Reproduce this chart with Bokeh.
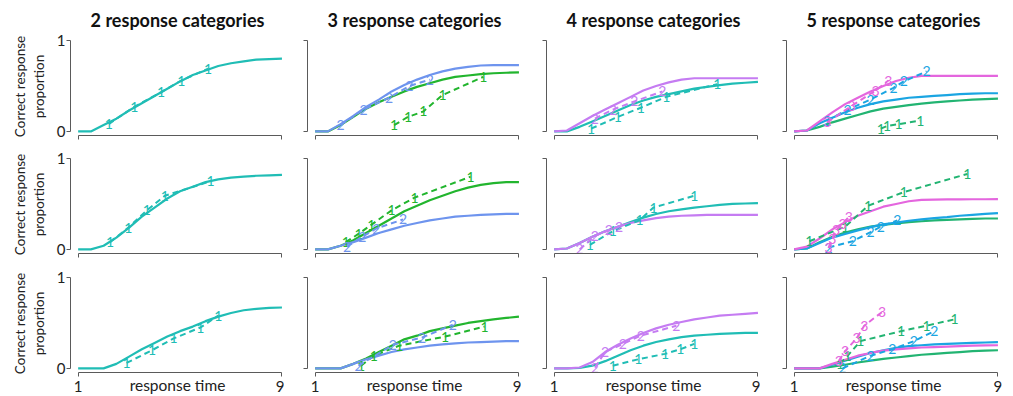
from bokeh.plotting import figure
from bokeh.layouts import column, row
from bokeh.models import FixedTicker, Range1d, CustomLabelingPolicy
from bokeh.embed import file_html
from bokeh.resources import INLINE
from bokeh.core.properties import value

# ---------------- data ----------------
titles = ["2 response categories", "3 response categories",
          "4 response categories", "5 response categories"]
x_ticks = [1, 9]
y_ticks = [0, 1]
x_label = "response time"
y_label = "Correct response\nproportion"

# response-time grid of the fitted (solid) curves
rt = [1, 1.5, 2, 2.5, 3, 3.5, 4, 4.5, 5, 5.5, 6, 6.5, 7, 7.5, 8, 8.5, 9]

# ---- column 1 : 2 categories (teal) ----
r1c1_fit1 = [0, 0, 0.07, 0.14, 0.23, 0.31, 0.39, 0.47, 0.55, 0.62, 0.67, 0.72, 0.75, 0.77, 0.79, 0.795, 0.80]
r1c1_obs1_x = [2.2, 3.2, 4.25, 5.05, 6.1]
r1c1_obs1_y = [0.08, 0.27, 0.43, 0.56, 0.69]
r2c1_fit1 = [0, 0, 0.04, 0.13, 0.24, 0.36, 0.46, 0.56, 0.64, 0.69, 0.74, 0.77, 0.79, 0.80, 0.81, 0.815, 0.82]
r2c1_obs1_x = [2.25, 2.97, 3.7, 4.4, 6.2]
r2c1_obs1_y = [0.08, 0.24, 0.43, 0.59, 0.75]
r3c1_fit1 = [0, 0, 0, 0.05, 0.13, 0.21, 0.28, 0.35, 0.41, 0.46, 0.52, 0.57, 0.61, 0.64, 0.655, 0.665, 0.67]
r3c1_obs1_x = [2.9, 3.9, 4.75, 5.8, 6.5]
r3c1_obs1_y = [0.06, 0.20, 0.33, 0.45, 0.58]

# ---- column 2 : 3 categories (green = 1, blue = 2) ----
r1c2_fit1 = [0, 0, 0.07, 0.16, 0.25, 0.32, 0.38, 0.44, 0.49, 0.53, 0.57, 0.60, 0.615, 0.63, 0.64, 0.645, 0.65]
r1c2_fit2 = [0, 0, 0.08, 0.17, 0.27, 0.35, 0.44, 0.51, 0.57, 0.62, 0.66, 0.69, 0.71, 0.725, 0.73, 0.73, 0.73]
r1c2_obs1_x = [4.1, 4.65, 5.25, 6.0, 7.6]
r1c2_obs1_y = [0.07, 0.16, 0.22, 0.40, 0.60]
r1c2_obs2_x = [2.0, 2.9, 3.9, 4.7, 5.5]
r1c2_obs2_y = [0.07, 0.24, 0.37, 0.50, 0.57]
r2c2_fit1 = [0, 0, 0.04, 0.10, 0.18, 0.26, 0.34, 0.42, 0.48, 0.54, 0.59, 0.64, 0.68, 0.71, 0.73, 0.74, 0.74]
r2c2_fit2 = [0, 0, 0.04, 0.08, 0.13, 0.18, 0.22, 0.26, 0.29, 0.32, 0.34, 0.36, 0.37, 0.38, 0.385, 0.39, 0.39]
r2c2_obs1_x = [2.2, 2.7, 3.2, 4.0, 4.9, 7.1]
r2c2_obs1_y = [0.08, 0.17, 0.27, 0.43, 0.57, 0.80]
r2c2_obs2_x = [2.25, 2.85, 3.4, 4.45]
r2c2_obs2_y = [0.03, 0.14, 0.23, 0.33]
r3c2_fit1 = [0, 0, 0, 0.05, 0.11, 0.18, 0.25, 0.32, 0.36, 0.41, 0.44, 0.47, 0.50, 0.52, 0.54, 0.555, 0.57]
r3c2_fit2 = [0, 0, 0, 0.05, 0.10, 0.14, 0.18, 0.21, 0.23, 0.25, 0.265, 0.275, 0.285, 0.29, 0.295, 0.30, 0.30]
r3c2_obs1_x = [2.8, 3.3, 4.3, 6.1, 7.65]
r3c2_obs1_y = [0.03, 0.14, 0.25, 0.35, 0.46]
r3c2_obs2_x = [2.7, 4.05, 5.2, 6.4]
r3c2_obs2_y = [0.03, 0.26, 0.34, 0.48]

# ---- column 3 : 4 categories (teal = 1, violet = 2) ----
r1c3_fit1 = [0, 0, 0.05, 0.11, 0.17, 0.23, 0.29, 0.34, 0.38, 0.41, 0.44, 0.47, 0.49, 0.51, 0.525, 0.535, 0.545]
r1c3_fit2 = [0, 0.01, 0.09, 0.17, 0.24, 0.31, 0.38, 0.45, 0.50, 0.54, 0.57, 0.585, 0.585, 0.585, 0.585, 0.585, 0.585]
r1c3_obs1_x = [2.45, 3.5, 4.4, 5.4, 7.4]
r1c3_obs1_y = [0.03, 0.16, 0.26, 0.38, 0.52]
r1c3_obs2_x = [2.6, 3.3, 4.15, 5.25]
r1c3_obs2_y = [0.14, 0.24, 0.33, 0.44]
r2c3_fit1 = [0, 0.01, 0.07, 0.14, 0.20, 0.25, 0.30, 0.35, 0.39, 0.42, 0.44, 0.46, 0.475, 0.49, 0.50, 0.505, 0.51]
r2c3_fit2 = [0, 0.01, 0.07, 0.14, 0.20, 0.25, 0.29, 0.32, 0.345, 0.36, 0.37, 0.375, 0.38, 0.38, 0.38, 0.38, 0.38]
r2c3_obs1_x = [2.4, 3.3, 4.35, 4.9, 6.5]
r2c3_obs1_y = [0.05, 0.20, 0.32, 0.46, 0.59]
r2c3_obs2_x = [2.0, 2.6, 3.15, 3.55]
r2c3_obs2_y = [0.0, 0.15, 0.21, 0.25]
r3c3_fit1 = [0, 0, 0.005, 0.03, 0.08, 0.14, 0.20, 0.25, 0.29, 0.32, 0.345, 0.36, 0.37, 0.38, 0.385, 0.39, 0.39]
r3c3_fit2 = [0, 0, 0.01, 0.07, 0.18, 0.26, 0.33, 0.39, 0.44, 0.48, 0.51, 0.54, 0.56, 0.58, 0.59, 0.60, 0.61]
r3c3_obs1_x = [3.3, 4.3, 5.35, 5.95, 6.5]
r3c3_obs1_y = [0.03, 0.10, 0.16, 0.21, 0.27]
r3c3_obs2_x = [2.6, 3.0, 3.7, 4.4, 5.8]
r3c3_obs2_y = [0.01, 0.18, 0.27, 0.36, 0.47]

# ---- column 4 : 5 categories (green = 1, blue = 2, magenta = 3) ----
r1c4_fit1 = [0, 0.01, 0.05, 0.10, 0.14, 0.18, 0.22, 0.25, 0.27, 0.29, 0.305, 0.32, 0.33, 0.34, 0.35, 0.355, 0.36]
r1c4_fit2 = [0, 0.01, 0.09, 0.15, 0.21, 0.26, 0.30, 0.33, 0.35, 0.37, 0.38, 0.39, 0.40, 0.41, 0.415, 0.42, 0.42]
r1c4_fit3 = [0, 0.01, 0.11, 0.21, 0.30, 0.37, 0.44, 0.50, 0.555, 0.59, 0.61, 0.61, 0.61, 0.61, 0.61, 0.61, 0.61]
r1c4_obs1_x = [4.4, 4.65, 5.1, 5.95]
r1c4_obs1_y = [0.03, 0.06, 0.08, 0.12]
r1c4_obs2_x = [2.3, 3.1, 4.0, 4.9, 5.3, 6.2]
r1c4_obs2_y = [0.12, 0.24, 0.35, 0.48, 0.55, 0.66]
r1c4_obs3_x = [2.3, 3.25, 4.2, 4.7]
r1c4_obs3_y = [0.10, 0.28, 0.45, 0.56]
r2c4_fit1 = [0, 0.01, 0.08, 0.14, 0.185, 0.22, 0.25, 0.27, 0.285, 0.30, 0.31, 0.32, 0.325, 0.33, 0.335, 0.34, 0.34]
r2c4_fit2 = [0, 0.01, 0.07, 0.13, 0.17, 0.21, 0.245, 0.275, 0.295, 0.315, 0.33, 0.345, 0.355, 0.37, 0.38, 0.39, 0.40]
r2c4_fit3 = [0, 0.03, 0.12, 0.22, 0.30, 0.37, 0.42, 0.47, 0.50, 0.53, 0.545, 0.548, 0.55, 0.55, 0.552, 0.552, 0.553]
r2c4_obs1_x = [1.6, 3.0, 3.9, 5.3, 7.8]
r2c4_obs1_y = [0.09, 0.25, 0.48, 0.63, 0.83]
r2c4_obs2_x = [2.35, 3.3, 4.0, 4.4, 5.05]
r2c4_obs2_y = [0.02, 0.09, 0.19, 0.25, 0.32]
r2c4_obs3_x = [2.35, 2.5, 2.65, 2.9, 3.15]
r2c4_obs3_y = [0.02, 0.12, 0.21, 0.28, 0.36]
r3c4_fit1 = [0, 0, 0, 0.02, 0.04, 0.065, 0.085, 0.105, 0.12, 0.135, 0.15, 0.16, 0.17, 0.18, 0.19, 0.195, 0.20]
r3c4_fit2 = [0, 0, 0, 0.04, 0.085, 0.13, 0.17, 0.20, 0.225, 0.245, 0.255, 0.265, 0.27, 0.275, 0.28, 0.285, 0.29]
r3c4_fit3 = [0, 0, 0, 0.05, 0.095, 0.14, 0.17, 0.195, 0.21, 0.22, 0.23, 0.235, 0.24, 0.245, 0.25, 0.253, 0.255]
r3c4_obs1_x = [2.8, 3.1, 3.6, 5.2, 6.2, 7.3]
r3c4_obs1_y = [0.05, 0.14, 0.30, 0.41, 0.47, 0.54]
r3c4_obs2_x = [2.9, 4.0, 4.85, 5.7, 6.5]
r3c4_obs2_y = [0.0, 0.14, 0.21, 0.30, 0.41]
r3c4_obs3_x = [2.75, 3.0, 3.45, 3.75, 4.45]
r3c4_obs3_y = [0.08, 0.19, 0.33, 0.47, 0.62]

# ---------------- colours ----------------
TEAL = "#20BDB5"
BLUE2 = "#6E94EE"
GREEN2 = "#22B52E"
VIOLET = "#C57CF2"
MAGENTA = "#E466DE"
BLUE4 = "#1AA5E2"
GREEN4 = "#22B472"

col_colors = [
    {"1": TEAL},
    {"1": GREEN2, "2": BLUE2},
    {"1": TEAL, "2": VIOLET},
    {"1": GREEN4, "2": BLUE4, "3": MAGENTA},
]

g = globals()

FONT = "Lato"
FRAME_W, FRAME_H = 214, 98
AXIS_COL = "#5a5a5a"
LEFTS = [70, 23, 25, 26]
RIGHTS = [0, 0, 0, 8]
TOPS = [37, 10, 11]
BOTTOMS = [10, 10, 24]

NO_LABELS = "for (const i of indices) { indices.unset(i) } return indices"


def make_panel(r, c):
    left, right = LEFTS[c], RIGHTS[c]
    top, bottom = TOPS[r], BOTTOMS[r]
    p = figure(width=left + FRAME_W + right, height=top + FRAME_H + bottom,
               x_range=Range1d(0.7, 9.1), y_range=Range1d(-0.045, 1.033),
               output_backend="svg", toolbar_location=None,
               title=titles[c] if r == 0 else None,
               min_border_left=left, min_border_right=right,
               min_border_top=top, min_border_bottom=bottom)
    p.outline_line_color = None
    p.xgrid.visible = False
    p.ygrid.visible = False
    if r == 0:
        p.title.text_font = FONT
        p.title.text_font_size = "18px"
        p.title.text_font_style = "bold"
        p.title.align = "center"
        p.title.text_color = "#111111"
        p.title.standoff = 13

    for ax in (p.xaxis[0], p.yaxis[0]):
        ax.axis_line_color = AXIS_COL
        ax.major_tick_line_color = AXIS_COL
        ax.major_tick_in = 0
        ax.major_tick_out = 4
        ax.minor_tick_line_color = None
        ax.major_label_text_font = FONT
        ax.major_label_text_font_size = "15px"
        ax.major_label_text_color = "#222222"
        ax.major_label_standoff = 1

    xa = p.xaxis[0]
    xa.ticker = FixedTicker(ticks=x_ticks)
    xa.bounds = (x_ticks[0], x_ticks[-1])
    if r < 2:
        xa.major_label_policy = CustomLabelingPolicy(code=NO_LABELS)
        xa.major_label_text_font_size = "1px"
        xa.major_label_standoff = 0
    else:
        xa.major_label_standoff = 4
        xa.axis_label = x_label
        xa.axis_label_text_font = FONT
        xa.axis_label_text_font_size = "15.5px"
        xa.axis_label_text_font_style = "normal"
        xa.axis_label_text_color = "#222222"
        xa.axis_label_standoff = -19

    ya = p.yaxis[0]
    ya.ticker = FixedTicker(ticks=y_ticks)
    ya.bounds = (y_ticks[0], y_ticks[-1])
    if c == 0:
        ya.axis_label = y_label
        ya.axis_label_text_font = FONT
        ya.axis_label_text_font_size = "13.5px"
        ya.axis_label_text_font_style = "normal"
        ya.axis_label_text_color = "#222222"
        ya.axis_label_standoff = 7
    else:
        ya.major_label_policy = CustomLabelingPolicy(code=NO_LABELS)
        ya.major_label_text_font_size = "1px"

    colors = col_colors[c]
    keys = list(colors.keys())
    # fitted curves (solid)
    for k in keys:
        ys = g[f"r{r+1}c{c+1}_fit{k}"]
        p.line(rt, ys, line_color=colors[k], line_width=2.2)
    # observed (dashed with category numbers)
    for k in keys:
        xs = g[f"r{r+1}c{c+1}_obs{k}_x"]
        ys = g[f"r{r+1}c{c+1}_obs{k}_y"]
        p.line(xs, ys, line_color=colors[k], line_width=2, line_dash="6 4")
        p.text(xs, ys, text=[k] * len(xs), text_color=colors[k],
               text_font=value(FONT), text_font_size="14px",
               text_align="center", text_baseline="middle")
    return p


rows = []
for r in range(3):
    rows.append(row(*[make_panel(r, c) for c in range(4)], spacing=0))
layout = column(*rows, spacing=0)

open("out.html", "w").write(file_html(layout, INLINE))
